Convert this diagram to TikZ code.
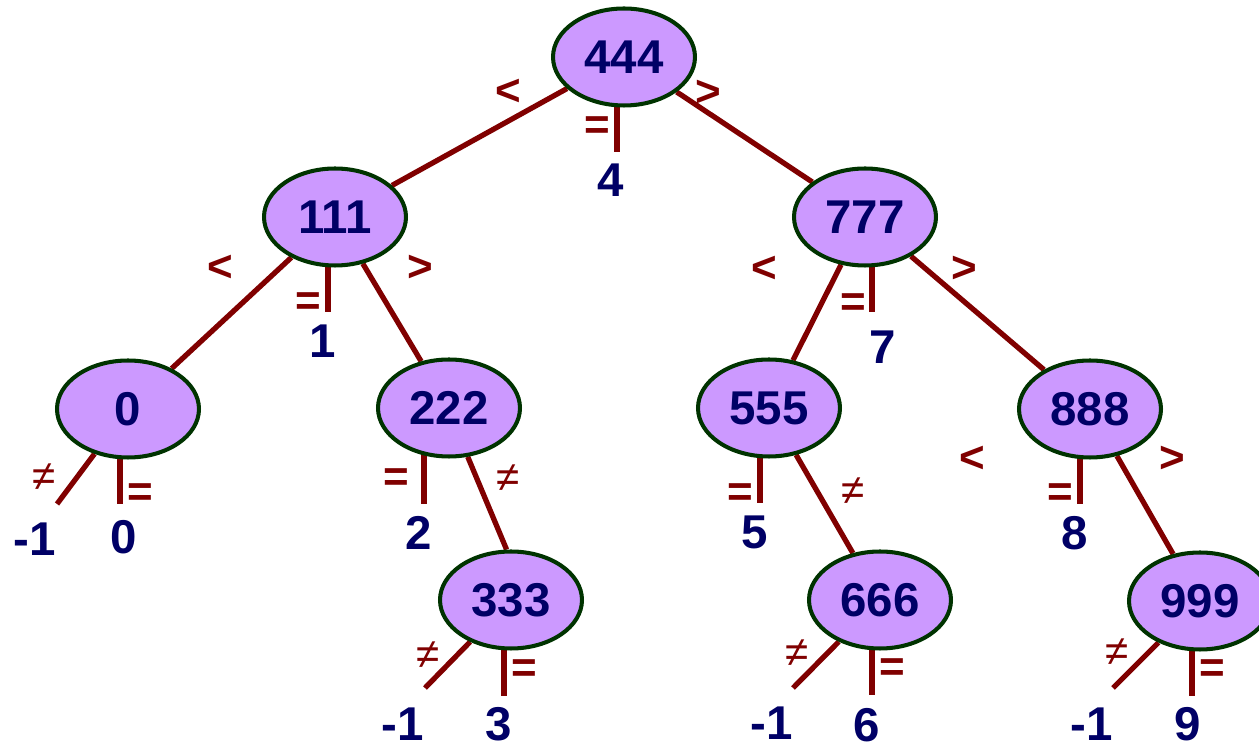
\documentclass[tikz,border=0pt]{standalone}
\usepackage{fontspec}
\setmainfont{Liberation Sans}
\usetikzlibrary{shapes.geometric}
\definecolor{keyfill}{HTML}{CC99FF}
\definecolor{keyline}{HTML}{003300}
\definecolor{keytext}{HTML}{000066}
\definecolor{linkred}{HTML}{800000}
\pgfdeclarelayer{bg}
\pgfsetlayers{bg,main}

\begin{document}
\begin{tikzpicture}[x=0.02cm, y=-0.02cm,
  every node/.style={align=center, font=\fontsize{27}{32}\selectfont\bfseries},
  keynode/.style={ellipse, minimum width=2.84cm, minimum height=1.94cm, inner sep=0pt, draw=keyline, line width=2.3pt, fill=keyfill, text=keytext},
  leaf/.style={text=keytext, inner sep=0pt},
  sym/.style={text=linkred, inner sep=0pt, font=\fontsize{25}{30}\selectfont\bfseries},
  nesym/.style={text=linkred, inner sep=0pt, font=\fontsize{24}{28}\selectfont},
  link/.style={draw=linkred, line width=3pt}
]
\useasboundingbox (0,0) rectangle (1259,749);
\clip (0,0) rectangle (1259,749);

% Keys
\node[keynode] (n444) at (624,57) {444};
\node[keynode] (n111) at (335,217) {111};
\node[keynode] (n777) at (865,217) {777};
\node[keynode] (n0)   at (128,409) {0};
\node[keynode] (n222) at (449,408) {222};
\node[keynode] (n555) at (769,408) {555};
\node[keynode] (n888) at (1090,409) {888};
\node[keynode] (n333) at (511,600) {333};
\node[keynode] (n666) at (880,600) {666};
\node[keynode] (n999) at (1200,601) {999};

% Ends of the = and != stubs
\coordinate (e444) at (617,152);
\coordinate (e111) at (328,312);
\coordinate (e0)   at (120,504);
\coordinate (e222) at (424,504);
\coordinate (e333) at (504,696);
\coordinate (e555) at (760,503);
\coordinate (e666) at (872,695);
\coordinate (e777) at (872,312);
\coordinate (e888) at (1080,504);
\coordinate (e999) at (1192,696);
\coordinate (f0)   at (57,504);
\coordinate (f333) at (425,688);
\coordinate (f666) at (793,688);
\coordinate (f999) at (1113,688);

% Results
\node[leaf] (r4)    at (611,180) {4};
\node[leaf] (r1)    at (323,341) {1};
\node[leaf] (r0m)   at (35,539)  {-1};
\node[leaf] (r0)    at (124,537) {0};
\node[leaf] (r2)    at (419,533) {2};
\node[leaf] (r333m) at (403,724) {-1};
\node[leaf] (r3)    at (499,724) {3};
\node[leaf] (r5)    at (755,532) {5};
\node[leaf] (r666m) at (772,723) {-1};
\node[leaf] (r6)    at (867,725) {6};
\node[leaf] (r7)    at (883,347) {7};
\node[leaf] (r8)    at (1075,533) {8};
\node[leaf] (r999m) at (1092,724) {-1};
\node[leaf] (r9)    at (1188,724) {9};

% Comparison marks
\node[sym] (lt444) at (508,92)  {<};
\node[sym] (gt444) at (708,93)  {>};
\node[sym] (lt111) at (220,268) {<};
\node[sym] (gt111) at (420,268) {>};
\node[sym] (lt777) at (764,269) {<};
\node[sym] (gt777) at (964,269) {>};
\node[sym] (lt888) at (972,459) {<};
\node[sym] (gt888) at (1172,459) {>};

\node[sym] (eq444) at (597,128)  {=};
\node[sym] (eq111) at (308,304)  {=};
\node[sym] (eq0)   at (140,495)  {=};
\node[sym] (eq222) at (396,480)  {=};
\node[sym] (eq333) at (524,671)  {=};
\node[sym] (eq555) at (740,495)  {=};
\node[sym] (eq666) at (892,670)  {=};
\node[sym] (eq777) at (853,305)  {=};
\node[sym] (eq888) at (1060,495) {=};
\node[sym] (eq999) at (1212,671) {=};

\node[nesym] (ne0)   at (44,477)   {≠};
\node[nesym] (ne222) at (508,478)  {≠};
\node[nesym] (ne333) at (428,655)  {≠};
\node[nesym] (ne555) at (853,491)  {≠};
\node[nesym] (ne666) at (797,653)  {≠};
\node[nesym] (ne999) at (1117,652) {≠};

\begin{pgfonlayer}{bg}
% Tree links
\draw[link] (n444) -- (n111);
\draw[link] (n444) -- (n777);
\draw[link] (n111) -- (n0);
\draw[link] (n111) -- (n222);
\draw[link] (n222.-69) -- (n333.95);
\draw[link] (n777) -- (n555);
\draw[link] (n777) -- (n888);
\draw[link] (n555) -- (n666);
\draw[link] (n888) -- (n999);
% Stubs
\foreach \k in {444,111,0,222,333,555,666,777,888,999}
  \draw[link] (e\k |- n\k) -- (e\k);
\foreach \k in {0,333,666,999}
  \draw[link] (n\k) -- (f\k);
\end{pgfonlayer}

\end{tikzpicture}
\end{document}
